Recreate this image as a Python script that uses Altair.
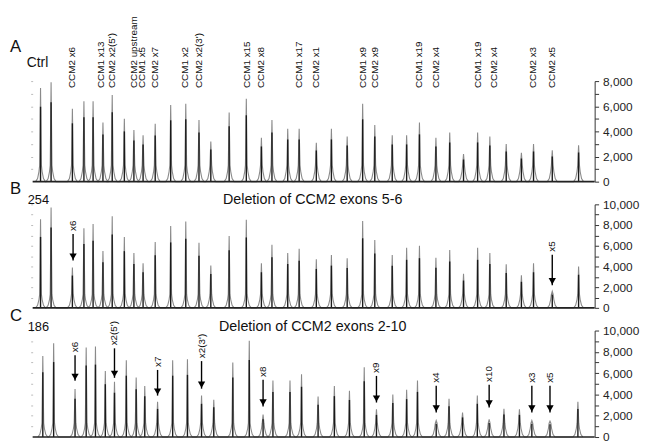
import altair as alt
import pandas as pd

W = 570
FONT = "Liberation Sans"

# ---------------- data ----------------
# peak positions (electropherogram size axis, arbitrary units) and heights (RFU)
PEAK_X_A = [8, 18.7, 40.3, 52, 61.3, 71.3, 80.7, 93, 102.7, 112, 124.3, 140, 155.3,
            168.7, 180.7, 199.3, 216.7, 232, 242.7, 258.7, 270.3, 287.7, 303, 319,
            334.7, 347, 364.7, 379.3, 392.3, 409, 423, 437, 451.3, 463.7, 480.3,
            495.7, 508, 527, 553.7]
PEAK_H_A = [7450, 7900, 5800, 6400, 6400, 4700, 6900, 5000, 4100, 3700, 4600, 6100,
            6200, 4900, 3200, 5500, 6600, 3500, 4900, 4200, 4200, 3100, 4200, 3600,
            6200, 4500, 3700, 3700, 4700, 3500, 3900, 2200, 3900, 3600, 3000, 2300,
            3000, 2500, 2900]

PEAK_X_B = PEAK_X_A
PEAK_H_B = [8570, 9700, 3900, 7700, 8100, 5500, 8850, 6850, 5300, 4300, 6350, 7900,
            8350, 6300, 4100, 6950, 8500, 4300, 6100, 5300, 5700, 4700, 5100, 4800,
            8400, 6550, 5100, 5800, 6000, 4850, 5600, 3300, 5800, 5300, 4200, 3150,
            4300, 1600, 4000]

PEAK_X_C = [10.3, 21.3, 43, 54.3, 63.7, 73.7, 83, 95, 105, 113.7, 126.7, 142, 157,
            171.3, 183.7, 203, 219.7, 233.7, 243.7, 261, 272.7, 289.5, 306, 321.3,
            336.3, 348.7, 365.3, 379.3, 390.3, 409.3, 422.3, 436, 451, 463, 478,
            493.7, 506.3, 524.7, 553]
PEAK_H_C = [7600, 8800, 4500, 8400, 8500, 6200, 5200, 7200, 5600, 4800, 3300, 7200,
            7300, 3900, 3500, 7000, 9050, 2100, 5300, 5300, 5900, 3800, 4800, 4350,
            6550, 2600, 4000, 4450, 5300, 1550, 3600, 2300, 3900, 1650, 2650, 2600,
            1550, 1500, 3300]

PROBE_NAMES = ["CCM2 x6", "CCM1 x13", "CCM2 x2(5')", "CCM2 upstream", "CCM1 x5",
               "CCM2 x7", "CCM1 x2", "CCM2 x2(3')", "CCM1 x15", "CCM2 x8", "CCM1 x17",
               "CCM2 x1", "CCM1 x9", "CCM2 x9", "CCM1 x19", "CCM2 x4", "CCM1 x19",
               "CCM2 x4", "CCM2 x3", "CCM2 x5"]
PROBE_X = [40.3, 69.3, 80.3, 102.7, 111, 124, 155, 168.7, 217, 232, 270, 287,
           334.7, 347, 392.3, 409, 451.3, 468, 508, 527]

ARROW_LABEL_B = ["x6", "x5"]
ARROW_X_B = [41, 527]
ARROW_TAIL_B = [7140, 5140]
ARROW_TIP_B = [4570, 2190]

ARROW_LABEL_C = ["x6", "x2(5')", "x7", "x2(3')", "x8", "x9", "x4", "x10", "x3", "x5"]
ARROW_X_C = [43, 83, 126.7, 171.3, 233.7, 348.7, 409.3, 463, 506.3, 524.7]
ARROW_TAIL_C = [7690, 8330, 6300, 7130, 5370, 5740, 4810, 4900, 4810, 4810]
ARROW_TIP_C = [5280, 5560, 3890, 4540, 2870, 3240, 2310, 2780, 2310, 2310]

PANEL_LETTERS = ["A", "B", "C"]
SAMPLE_NAMES = ["Ctrl", "254", "186"]
PANEL_TITLES = ["", "Deletion of CCM2 exons 5-6", "Deletion of CCM2 exons 2-10"]
Y_MAX = [8000, 10000, 10000]

# peak drawing style (offsets in x units, foot heights in RFU)
SHAPE_DX = [-5.0, -3.0, -1.6, -0.9, 0.0, 0.9, 1.6, 3.0, 5.0]
SHAPE_KIND = ["base", "low", "mid", "foot", "apex", "foot", "mid", "low", "base"]
SHAPE_Y = {"base": 0, "low": 250, "mid": 800, "foot": 1300}


def trace_df(xs, hs):
    rows = []
    k = 0
    for x, h in zip(xs, hs):
        for dx, kind in zip(SHAPE_DX, SHAPE_KIND):
            y = h if kind == "apex" else SHAPE_Y[kind]
            rows.append({"x": x + dx, "y": min(y, h), "o": k})
            k += 1
    return pd.DataFrame(rows)


def panel(idx, xs, hs, height, probes=None, arrows=None):
    ymax = Y_MAX[idx]
    xsc = alt.Scale(domain=[0, W], nice=False, zero=False)
    ysc = alt.Scale(domain=[0, ymax], nice=False)
    right_axis = alt.Axis(
        orient="right", values=list(range(0, ymax + 1, 1000)),
        labelExpr="datum.value % 2000 == 0 ? format(datum.value, ',') : ''",
        tickSize=4, labelPadding=4, grid=False, title=None,
        domainColor="#333", tickColor="#333", labelFontSize=12,
        labelColor="#222", labelFont=FONT)
    left_axis = alt.Axis(
        orient="left", values=list(range(1000, ymax + 1, 1000)), labels=False,
        domain=False, tickColor="#bbbbbb", tickSize=2, grid=False, title=None)

    pdf = pd.DataFrame({"x": xs, "h": hs})
    tdf = trace_df(xs, hs)

    trace = alt.Chart(tdf).mark_line(color="#8a8a8a", strokeWidth=1.1).encode(
        x=alt.X("x:Q", scale=xsc, axis=None),
        y=alt.Y("y:Q", scale=ysc, axis=right_axis),
        order="o:Q")
    core = alt.Chart(pdf).transform_calculate(
        top="datum.h * 0.8", zero="0").mark_rule(
        color="#1a1a1a", strokeWidth=1.4).encode(
        x=alt.X("x:Q", scale=xsc, axis=None),
        y=alt.Y("top:Q", scale=ysc, axis=None), y2="zero:Q")
    base = alt.Chart(pd.DataFrame({"zero": [0]})).mark_rule(
        color="#222", strokeWidth=1.6).encode(
        x=alt.value(0), x2=alt.value(W),
        y=alt.Y("zero:Q", scale=ysc, axis=left_axis))

    ann = pd.DataFrame({"letter": [PANEL_LETTERS[idx]],
                        "sample": [SAMPLE_NAMES[idx]],
                        "title": [PANEL_TITLES[idx]]})
    if idx == 0:
        letter_y, sample_y, sample_x, title_y = -34, -18, -6, -5
    else:
        letter_y, sample_y, sample_x, title_y = -15, -4, -5, -4
    letter = alt.Chart(ann).mark_text(
        align="left", baseline="middle", fontSize=17, font=FONT, color="#111").encode(
        text="letter:N", x=alt.value(-23), y=alt.value(letter_y))
    sample = alt.Chart(ann).mark_text(
        align="left", baseline="middle", fontSize=14 if idx == 0 else 13,
        font=FONT, color="#111").encode(
        text="sample:N", x=alt.value(sample_x), y=alt.value(sample_y))
    title = alt.Chart(ann).mark_text(
        align="center", baseline="middle", fontSize=14.5, font=FONT,
        color="#111").encode(
        text="title:N", x=alt.value(284), y=alt.value(title_y))

    layers = [trace, core, base, letter, sample, title]

    if probes is not None:
        names, px = probes
        ldf = pd.DataFrame({"name": names, "x": px})
        layers.append(alt.Chart(ldf).mark_text(
            angle=270, align="left", baseline="middle", fontSize=10,
            font=FONT, color="#111").encode(
            x=alt.X("x:Q", scale=xsc, axis=None), y=alt.value(7),
            text="name:N"))

    if arrows is not None:
        labels, ax, tail, tip = arrows
        adf = pd.DataFrame({"label": labels, "x": ax, "tail": tail, "tip": tip})
        shaft = alt.Chart(adf).mark_rule(color="#000", strokeWidth=1.4).encode(
            x=alt.X("x:Q", scale=xsc, axis=None),
            y=alt.Y("tail:Q", scale=ysc, axis=None), y2="tip:Q")
        head = alt.Chart(adf).mark_point(
            shape="triangle-down", filled=True, size=55, color="#000",
            opacity=1, yOffset=-4).encode(
            x=alt.X("x:Q", scale=xsc, axis=None),
            y=alt.Y("tip:Q", scale=ysc, axis=None))
        alabel = alt.Chart(adf).mark_text(
            angle=270, align="left", baseline="middle", fontSize=10,
            font=FONT, color="#111", yOffset=-3).encode(
            x=alt.X("x:Q", scale=xsc, axis=None),
            y=alt.Y("tail:Q", scale=ysc, axis=None), text="label:N")
        layers += [shaft, head, alabel]

    return alt.layer(*layers).resolve_axis(y="independent").properties(
        width=W, height=height)


pa = panel(0, PEAK_X_A, PEAK_H_A, 102, probes=(PROBE_NAMES, PROBE_X))
pb = panel(1, PEAK_X_B, PEAK_H_B, 105,
           arrows=(ARROW_LABEL_B, ARROW_X_B, ARROW_TAIL_B, ARROW_TIP_B))
pc = panel(2, PEAK_X_C, PEAK_H_C, 108,
           arrows=(ARROW_LABEL_C, ARROW_X_C, ARROW_TAIL_C, ARROW_TIP_C))

chart = alt.vconcat(pa, pb, pc, spacing=23, bounds="flush").properties(
    padding={"left": 2, "top": 5, "right": 2, "bottom": 2},
    background="white",
).configure_view(stroke=None)

chart.save("out.html", embed_options={"renderer": "svg", "actions": False})
